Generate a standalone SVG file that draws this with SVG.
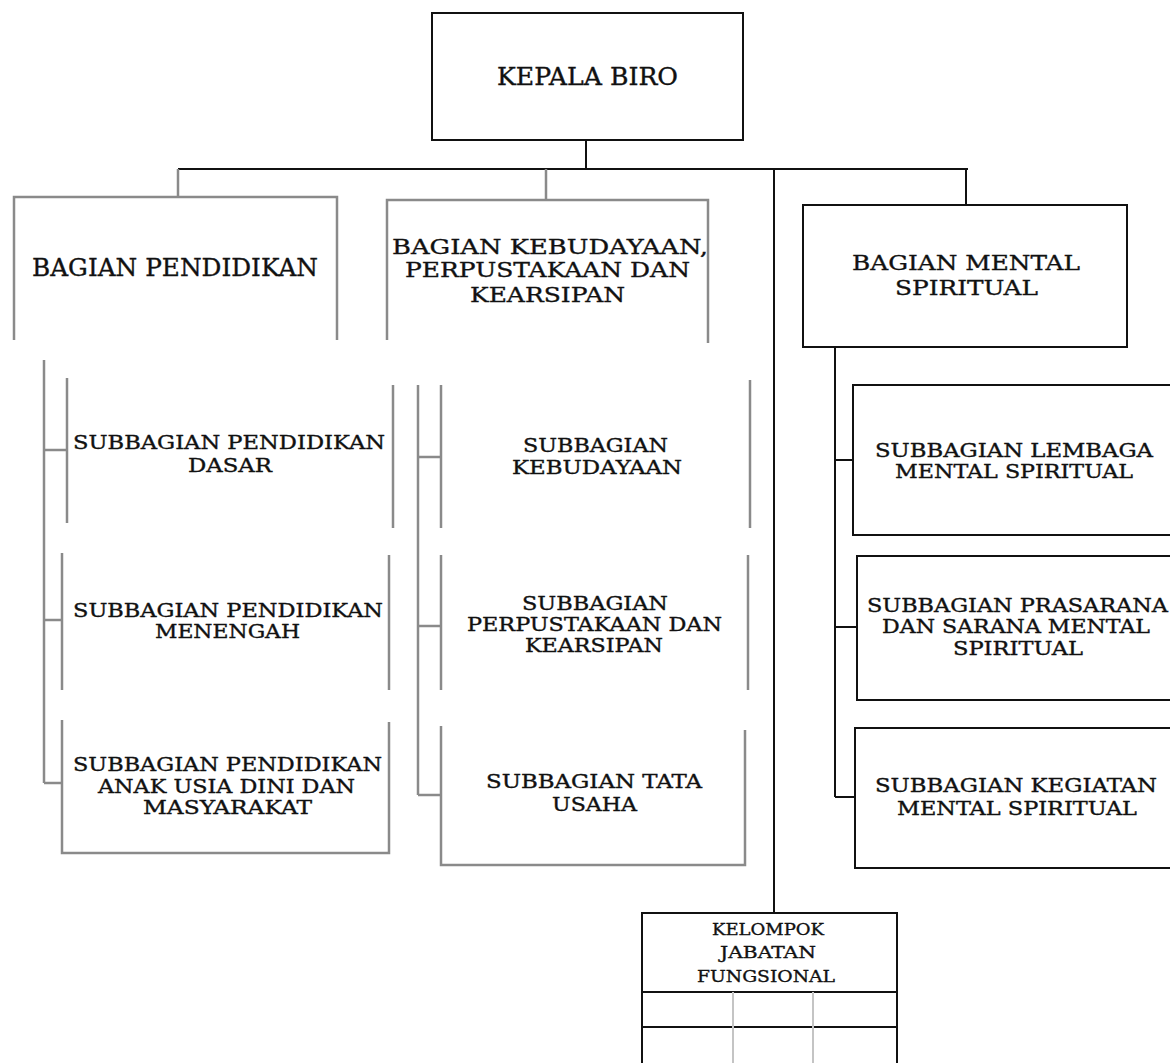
<svg xmlns="http://www.w3.org/2000/svg" width="1170" height="1063" viewBox="0 0 1170 1063">
<style>
  .bk { fill: none; stroke: #111; stroke-width: 2; }
  .gr { fill: none; stroke: #8a8a8a; stroke-width: 2.5; }
  .fg { fill: none; stroke: #c4c4c4; stroke-width: 2; }
  text { font-family: "DejaVu Serif", "Liberation Serif", serif; fill: #111; stroke: #111; stroke-width: 0.35; }
  .t24 { font-size: 24px; }
  .t23 { font-size: 21px; }
  .t20 { font-size: 18px; }
  .t17 { font-size: 16px; }
</style>
<rect x="0" y="0" width="1170" height="1063" fill="#fff"/>

<g id="connectors">
  <path class="bk" d="M586,140 V169"/>
  <path class="bk" d="M178,169 H968"/>
  <path class="gr" d="M178,169 V197"/>
  <path class="gr" d="M546,169 V200"/>
  <path class="bk" d="M966,169 V205"/>
  <path class="bk" d="M774,169 V913" stroke-width="3"/>
  <path class="gr" d="M44,360 V783 M44,450 H67 M44,620 H62 M44,783 H62"/>
  <path class="gr" d="M418,385 V795 M418,457 H441 M418,626 H441 M418,795 H441"/>
  <path class="bk" d="M835,347 V797 M835,460 H853 M835,627 H857 M835,797 H855"/>
</g>

<g id="kepala-biro">
  <rect class="bk" x="432" y="13" width="311" height="127" stroke-width="2.5"/>
  <text class="t24" x="497" y="85" textLength="181" lengthAdjust="spacingAndGlyphs">KEPALA BIRO</text>
</g>

<g id="bagian-pendidikan">
  <path class="gr" d="M14,340 V197 H337 V340"/>
  <text class="t24" x="32" y="276" textLength="286" lengthAdjust="spacingAndGlyphs">BAGIAN PENDIDIKAN</text>
</g>

<g id="bagian-kebudayaan">
  <path class="gr" d="M387,340 V200 H708 V343"/>
  <text class="t23" x="392" y="254" textLength="316" lengthAdjust="spacingAndGlyphs">BAGIAN KEBUDAYAAN,</text>
  <text class="t23" x="405" y="277" textLength="285" lengthAdjust="spacingAndGlyphs">PERPUSTAKAAN DAN</text>
  <text class="t23" x="470" y="302" textLength="155" lengthAdjust="spacingAndGlyphs">KEARSIPAN</text>
</g>

<g id="bagian-mental">
  <rect class="bk" x="803" y="205" width="324" height="142"/>
  <text class="t23" x="852" y="270" textLength="228" lengthAdjust="spacingAndGlyphs">BAGIAN MENTAL</text>
  <text class="t23" x="895" y="295" textLength="143" lengthAdjust="spacingAndGlyphs">SPIRITUAL</text>
</g>

<g id="sub-dasar">
  <path class="gr" d="M67,378 V523 M393,385 V528"/>
  <text class="t20" x="73" y="449" textLength="312" lengthAdjust="spacingAndGlyphs">SUBBAGIAN PENDIDIKAN</text>
  <text class="t20" x="188" y="472" textLength="84" lengthAdjust="spacingAndGlyphs">DASAR</text>
</g>

<g id="sub-menengah">
  <path class="gr" d="M62,553 V690 M389,555 V690"/>
  <text class="t20" x="73" y="617" textLength="310" lengthAdjust="spacingAndGlyphs">SUBBAGIAN PENDIDIKAN</text>
  <text class="t20" x="155" y="638" textLength="145" lengthAdjust="spacingAndGlyphs">MENENGAH</text>
</g>

<g id="sub-anak-usia-dini">
  <path class="gr" d="M62,720 V853 H389 V722"/>
  <text class="t20" x="73" y="771" textLength="309" lengthAdjust="spacingAndGlyphs">SUBBAGIAN PENDIDIKAN</text>
  <text class="t20" x="98" y="793" textLength="257" lengthAdjust="spacingAndGlyphs">ANAK USIA DINI DAN</text>
  <text class="t20" x="143" y="814" textLength="169" lengthAdjust="spacingAndGlyphs">MASYARAKAT</text>
</g>

<g id="sub-kebudayaan">
  <path class="gr" d="M441,385 V528 M750,380 V528"/>
  <text class="t20" x="523" y="452" textLength="145" lengthAdjust="spacingAndGlyphs">SUBBAGIAN</text>
  <text class="t20" x="512" y="474" textLength="170" lengthAdjust="spacingAndGlyphs">KEBUDAYAAN</text>
</g>

<g id="sub-perpustakaan">
  <path class="gr" d="M441,555 V690 M748,555 V690"/>
  <text class="t20" x="522" y="610" textLength="146" lengthAdjust="spacingAndGlyphs">SUBBAGIAN</text>
  <text class="t20" x="467" y="631" textLength="255" lengthAdjust="spacingAndGlyphs">PERPUSTAKAAN DAN</text>
  <text class="t20" x="525" y="652" textLength="138" lengthAdjust="spacingAndGlyphs">KEARSIPAN</text>
</g>

<g id="sub-tata-usaha">
  <path class="gr" d="M441,726 V865 H745 V730"/>
  <text class="t20" x="486" y="788" textLength="216" lengthAdjust="spacingAndGlyphs">SUBBAGIAN TATA</text>
  <text class="t20" x="552" y="811" textLength="85" lengthAdjust="spacingAndGlyphs">USAHA</text>
</g>

<g id="sub-lembaga">
  <rect class="bk" x="853" y="385" width="330" height="150"/>
  <text class="t20" x="875" y="457" textLength="278" lengthAdjust="spacingAndGlyphs">SUBBAGIAN LEMBAGA</text>
  <text class="t20" x="895" y="478" textLength="238" lengthAdjust="spacingAndGlyphs">MENTAL SPIRITUAL</text>
</g>

<g id="sub-prasarana">
  <rect class="bk" x="857" y="556" width="330" height="144"/>
  <text class="t20" x="867" y="612" textLength="301" lengthAdjust="spacingAndGlyphs">SUBBAGIAN PRASARANA</text>
  <text class="t20" x="882" y="633" textLength="268" lengthAdjust="spacingAndGlyphs">DAN SARANA MENTAL</text>
  <text class="t20" x="953" y="655" textLength="130" lengthAdjust="spacingAndGlyphs">SPIRITUAL</text>
</g>

<g id="sub-kegiatan">
  <rect class="bk" x="855" y="728" width="330" height="140"/>
  <text class="t20" x="875" y="792" textLength="282" lengthAdjust="spacingAndGlyphs">SUBBAGIAN KEGIATAN</text>
  <text class="t20" x="897" y="815" textLength="240" lengthAdjust="spacingAndGlyphs">MENTAL SPIRITUAL</text>
</g>

<g id="kelompok-jabatan-fungsional">
  <rect class="bk" x="642" y="913" width="255" height="170" stroke-width="2.5"/>
  <path class="bk" d="M642,992 H897 M642,1027 H897"/>
  <path class="fg" d="M733,992 V1063 M813,992 V1063"/>
  <text class="t17" x="768" y="935" text-anchor="middle" textLength="112" lengthAdjust="spacingAndGlyphs">KELOMPOK</text>
  <text class="t17" x="768" y="958" text-anchor="middle" textLength="96" lengthAdjust="spacingAndGlyphs">JABATAN</text>
  <text class="t17" x="766" y="982" text-anchor="middle" textLength="138" lengthAdjust="spacingAndGlyphs">FUNGSIONAL</text>
</g>
</svg>
